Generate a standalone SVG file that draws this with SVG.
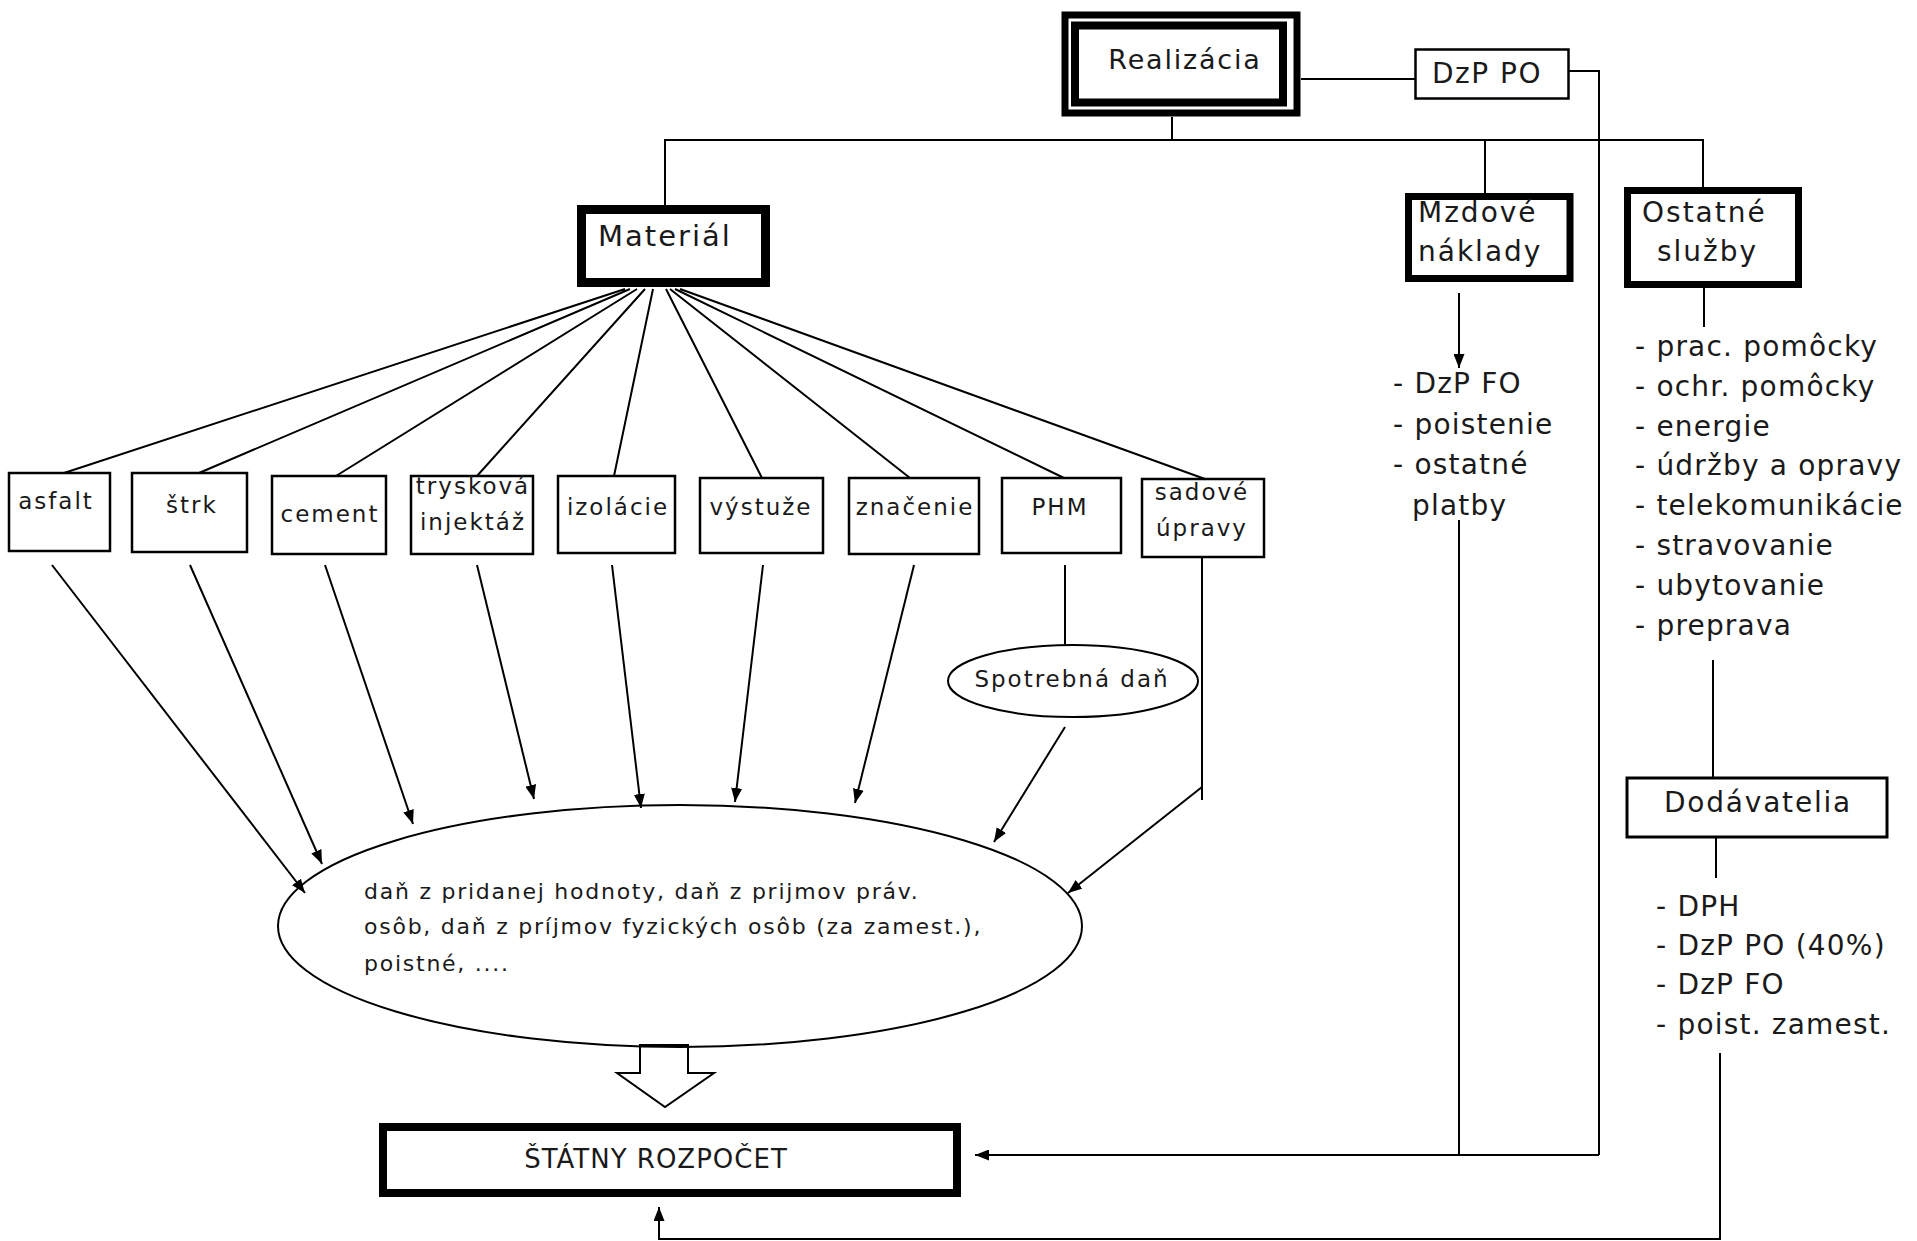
<svg xmlns="http://www.w3.org/2000/svg" width="1917" height="1241" viewBox="0 0 1917 1241">
<defs>
<style>
.t{font-family:"DejaVu Sans","Liberation Sans",sans-serif;fill:#1a1a1a;}
.b22{font-size:23px;letter-spacing:2px;}
.b26{font-size:28px;letter-spacing:1.2px;}
.thin{fill:#fff;stroke:#000;stroke-width:2.5;}
.thick{fill:#fff;stroke:#000;}
.c{fill:none;stroke:#000;stroke-width:2;}
.ca{fill:none;stroke:#000;stroke-width:2;marker-end:url(#ah);}
</style>
<marker id="ah" viewBox="0 0 14 11" refX="14" refY="5.5" markerWidth="14" markerHeight="11" orient="auto" markerUnits="userSpaceOnUse"><path d="M0,0 L14,5.5 L0,11 z" fill="#000"/></marker>
</defs>
<rect width="1917" height="1241" fill="#fff"/>

<g id="connectors">
<path class="c" d="M1172,117 V140 M664,140 H1704 M665,140 V205 M1485,140 V193 M1703,140 V187"/>
<path class="c" d="M1301,79 H1415"/>
<path class="c" d="M1569,71 H1599 V1155"/>
<path class="c" d="M625,289 L64,473 M630,289 L199,473 M637,289 L336,476 M645,289 L477,476 M653,289 L614,476 M666,289 L762,478 M670,289 L910,478 M675,289 L1064,478 M680,289 L1205,479"/>
<path class="ca" d="M52,565 L305,893"/>
<path class="ca" d="M190,565 L322,864"/>
<path class="ca" d="M325,565 L413,824"/>
<path class="ca" d="M477,565 L534,799"/>
<path class="ca" d="M612,565 L641,808"/>
<path class="ca" d="M763,565 L735,802"/>
<path class="ca" d="M914,565 L855,803"/>
<path class="c" d="M1065,565 V645"/>
<path class="ca" d="M1065,727 L994,842"/>
<path class="c" d="M1202,557 V800"/>
<path class="ca" d="M1202,787 L1068,893"/>
<path class="ca" d="M1459,293 V368"/>
<path class="c" d="M1459,520 V1155"/>
<path class="ca" d="M1599,1155 H975"/>
<path class="c" d="M1704,288 V327"/>
<path class="c" d="M1713,660 V778"/>
<path class="c" d="M1716,837 V878"/>
<path class="ca" d="M1720,1053 V1239 H659 V1207"/>
<polygon points="640,1045 688,1045 688,1073 714,1073 665,1107 617,1073 640,1073" fill="#fff" stroke="#000" stroke-width="2"/>
</g>

<g id="realizacia">
<rect x="1065" y="15" width="232" height="98" fill="#fff" stroke="#000" stroke-width="7"/>
<rect x="1075" y="25.5" width="208" height="77" fill="none" stroke="#000" stroke-width="8"/>
<text class="t" x="1185" y="69" font-size="27" letter-spacing="1.8" text-anchor="middle">Realizácia</text>
</g>

<g id="dzp-po">
<rect class="thin" x="1415.5" y="49.5" width="153" height="49"/>
<text class="t" x="1487" y="83" font-size="28" letter-spacing="1.5" text-anchor="middle">DzP PO</text>
</g>

<g id="material">
<rect class="thick" x="581.5" y="209.5" width="184" height="73" stroke-width="9"/>
<text class="t" x="598" y="246" font-size="29" letter-spacing="2">Materiál</text>
</g>

<g id="mzdove">
<rect class="thick" x="1408.5" y="196.5" width="161.5" height="82" stroke-width="7"/>
<text class="t" x="1418" y="222" font-size="28" letter-spacing="2">Mzdové</text>
<text class="t" x="1418" y="261" font-size="28" letter-spacing="2">náklady</text>
</g>

<g id="ostatne">
<rect class="thick" x="1627.5" y="190.5" width="171" height="94" stroke-width="7"/>
<text class="t" x="1642" y="222" font-size="28" letter-spacing="2">Ostatné</text>
<text class="t" x="1657" y="261" font-size="28" letter-spacing="2">služby</text>
</g>

<g id="mzdove-list">
<text class="t b26" x="1393" y="393">- DzP FO</text>
<text class="t b26" x="1393" y="434">- poistenie</text>
<text class="t b26" x="1393" y="474">- ostatné</text>
<text class="t b26" x="1412" y="515">platby</text>
</g>

<g id="ostatne-list">
<text class="t b26" x="1635" y="356">- prac. pomôcky</text>
<text class="t b26" x="1635" y="396">- ochr. pomôcky</text>
<text class="t b26" x="1635" y="436">- energie</text>
<text class="t b26" x="1635" y="475">- údržby a opravy</text>
<text class="t b26" x="1635" y="515">- telekomunikácie</text>
<text class="t b26" x="1635" y="555">- stravovanie</text>
<text class="t b26" x="1635" y="595">- ubytovanie</text>
<text class="t b26" x="1635" y="635">- preprava</text>
</g>

<g id="dodavatelia">
<rect x="1627" y="778" width="260" height="59" fill="#fff" stroke="#000" stroke-width="3"/>
<text class="t" x="1758" y="812" font-size="28" letter-spacing="1.8" text-anchor="middle">Dodávatelia</text>
</g>

<g id="dodavatelia-list">
<text class="t b26" x="1656" y="916">- DPH</text>
<text class="t b26" x="1656" y="955">- DzP PO (40%)</text>
<text class="t b26" x="1656" y="994">- DzP FO</text>
<text class="t b26" x="1656" y="1034">- poist. zamest.</text>
</g>

<g id="asfalt"><rect class="thin" x="9" y="473" width="101" height="78"/><text class="t b22" x="56" y="509" text-anchor="middle">asfalt</text></g>
<g id="strk"><rect class="thin" x="132" y="473" width="115" height="79"/><text class="t b22" x="192" y="513" text-anchor="middle">štrk</text></g>
<g id="cement"><rect class="thin" x="272" y="476" width="114" height="78"/><text class="t b22" x="330" y="522" text-anchor="middle">cement</text></g>
<g id="tryskova"><rect class="thin" x="411" y="476" width="122" height="78"/><text class="t b22" x="473" y="494" text-anchor="middle">trysková</text><text class="t b22" x="473" y="530" text-anchor="middle">injektáž</text></g>
<g id="izolacie"><rect class="thin" x="558" y="476" width="117" height="77"/><text class="t b22" x="618" y="515" text-anchor="middle">izolácie</text></g>
<g id="vystuze"><rect class="thin" x="700" y="478" width="123" height="75"/><text class="t b22" x="761" y="515" text-anchor="middle">výstuže</text></g>
<g id="znacenie"><rect class="thin" x="849" y="478" width="130" height="76"/><text class="t b22" x="915" y="515" text-anchor="middle">značenie</text></g>
<g id="phm"><rect class="thin" x="1002" y="478" width="119" height="75"/><text class="t b22" x="1060" y="515" text-anchor="middle">PHM</text></g>
<g id="sadove"><rect class="thin" x="1142" y="479" width="122" height="78"/><text class="t b22" x="1202" y="500" text-anchor="middle">sadové</text><text class="t b22" x="1202" y="536" text-anchor="middle">úpravy</text></g>

<g id="spotrebna-dan">
<ellipse cx="1073" cy="681" rx="125" ry="36" fill="#fff" stroke="#000" stroke-width="2"/>
<text class="t b22" x="1072" y="687" text-anchor="middle">Spotrebná daň</text>
</g>

<g id="dane">
<ellipse cx="680" cy="926" rx="402" ry="121" fill="none" stroke="#000" stroke-width="2"/>
<text class="t" x="364" y="899" font-size="22" letter-spacing="1.75">daň z pridanej hodnoty, daň z prijmov práv.</text>
<text class="t" x="364" y="934" font-size="22" letter-spacing="1.75">osôb, daň z príjmov fyzických osôb (za zamest.),</text>
<text class="t" x="364" y="971" font-size="22" letter-spacing="1.75">poistné, ....</text>
</g>

<g id="statny-rozpocet">
<rect class="thick" x="383" y="1127" width="574" height="66" stroke-width="8"/>
<text class="t" x="656" y="1168" font-size="26" letter-spacing="1" text-anchor="middle">ŠTÁTNY ROZPOČET</text>
</g>
</svg>
